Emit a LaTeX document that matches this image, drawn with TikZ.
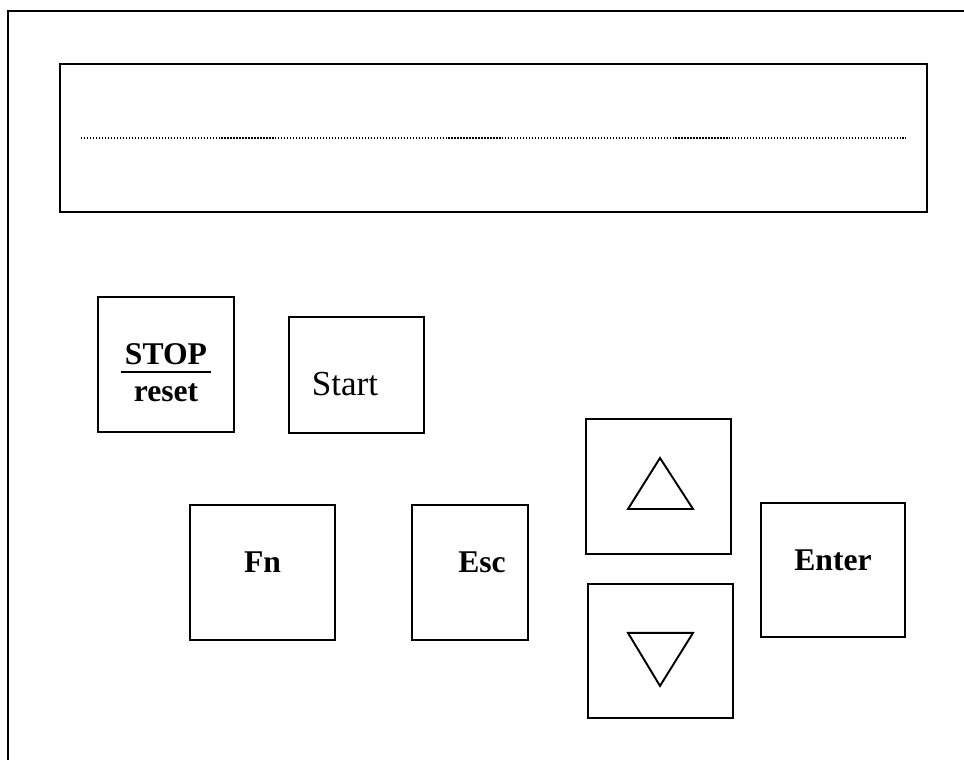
\documentclass[tikz,border=0pt]{standalone}
\usepackage{fontspec}
\setmainfont{Liberation Serif}
\usetikzlibrary{positioning}

\begin{document}
\begin{tikzpicture}[
        x=0.02cm, y=-0.02cm,
        frame/.style={line width=1.1pt},
        keybox/.style={
            rectangle,
            draw=black,
            line width=1.1pt,
            minimum width=2.9cm,
            minimum height=2.7cm,
            inner sep=0pt,
            font=\fontsize{18}{21.6}\selectfont\bfseries
        },
        keylabel/.style={text height=0.4cm, text depth=0.4cm},
        arrowmark/.style={line width=1.1pt, line join=miter}
    ]
    \useasboundingbox (0,0) rectangle (964,760);

    % panel outline, only left and top edge
    \draw[frame] (8,760) -- (8,11) -- (964,11);

    % display window
    \node[keybox, minimum width=17.34cm, minimum height=2.96cm] (display) at (493.5,138) {};
    \draw[line width=0.7pt, dash pattern=on 0.7pt off 1pt]
        ([xshift=0.44cm]display.west) -- ([xshift=-0.44cm]display.east);

    % STOP / reset and Start
    \node[keybox, minimum width=2.72cm, align=center] (stop) at (166,364.5)
        {\rule{0pt}{0.76cm}STOP\\[-0.6cm]\rule{1.82cm}{0.03cm}\\[-0.18cm]reset};
    \node[keybox, minimum width=2.7cm, minimum height=2.32cm,
          font=\fontsize{20}{24}\selectfont, text height=0.94cm, text depth=0.1cm]
          (start) at (356.5,375) {Start\hspace*{0.46cm}};

    % lower row
    \node[keybox, keylabel] (fn) at (262.5,572.5) {Fn};
    \node[keybox, keylabel, minimum width=2.32cm] (esc) at (470,572.5) {\hspace*{0.48cm}Esc};
    \node[keybox] (up) at (658.5,486.5) {};
    \node[keybox, below=0.56cm of up, xshift=0.04cm, minimum height=2.68cm] (down) {};
    \node[keybox, keylabel, minimum width=2.88cm, minimum height=2.68cm] (enter) at (833,570) {Enter};

    % arrow marks on the cursor keys
    \draw[arrowmark] ([shift={(1.5,-28.5)}]up.center) -- ([shift={(34.5,22.5)}]up.center)
        -- ([shift={(-30.5,22.5)}]up.center) -- cycle;
    \draw[arrowmark] ([shift={(-0.5,35)}]down.center) -- ([shift={(32.5,-18)}]down.center)
        -- ([shift={(-32.5,-18)}]down.center) -- cycle;

\end{tikzpicture}
\end{document}
